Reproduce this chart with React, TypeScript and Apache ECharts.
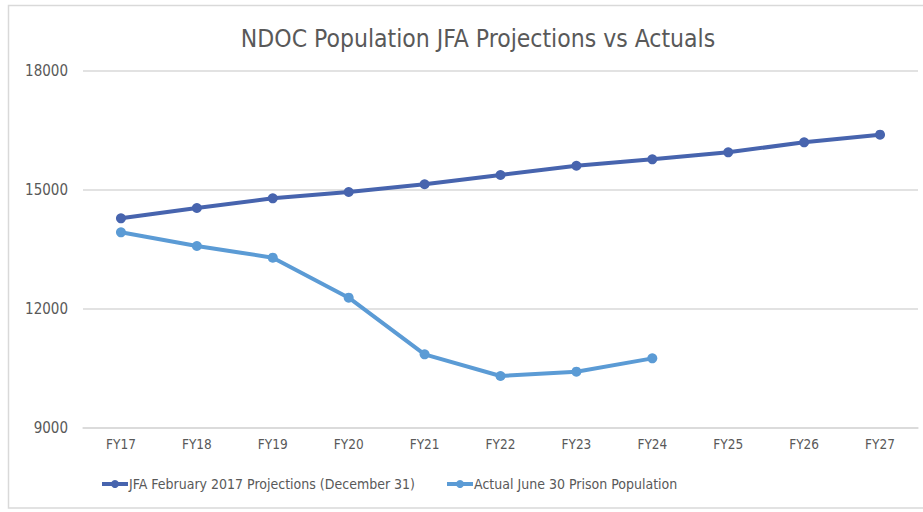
import React, { useEffect, useRef } from "react";
import * as echarts from "echarts";

const categories = ["FY17", "FY18", "FY19", "FY20", "FY21", "FY22", "FY23", "FY24", "FY25", "FY26", "FY27"];
const projections = [14286, 14546, 14790, 14950, 15144, 15378, 15612, 15774, 15950, 16202, 16395];
const actuals = [13933, 13588, 13294, 12286, 10857, 10311, 10420, 10756];
const yTicks = [9000, 12000, 15000, 18000];
const seriesNames = ["JFA February 2017 Projections (December 31)", "Actual June 30 Prison Population"];

const FONT = "'DejaVu Sans Condensed', 'DejaVu Sans', sans-serif";

export default function App() {
  const ref = useRef<HTMLDivElement>(null);
  useEffect(() => {
    if (!ref.current) return;
    const chart = echarts.init(ref.current, undefined, { renderer: "svg" });
    chart.setOption({
      animation: false,
      backgroundColor: "#ffffff",
      title: {
        text: "NDOC Population JFA Projections vs Actuals",
        left: 473,
        textAlign: "center",
        top: 21,
        textStyle: { fontFamily: FONT, fontSize: 24.5, fontWeight: "normal", color: "#595959" },
      },
      graphic: [
        {
          type: "rect",
          shape: { x: 8.5, y: 5.5, width: 930, height: 502.5 },
          style: { fill: "none", stroke: "#d9d9d9", lineWidth: 1.5 },
          silent: true,
        },
      ],
      legend: {
        bottom: 16,
        left: 95,
        itemGap: 30,
        itemWidth: 26,
        itemHeight: 10,
        lineStyle: { width: 4 },
        textStyle: { fontFamily: FONT, fontSize: 14, color: "#595959", padding: [0, 0, 0, -4] },
        data: seriesNames,
      },
      grid: { left: 83, right: 5, top: 71, bottom: 84, containLabel: false },
      xAxis: {
        type: "category",
        data: categories,
        boundaryGap: true,
        axisLine: { lineStyle: { color: "#d9d9d9", width: 1.5 } },
        axisTick: { show: false },
        axisLabel: { fontFamily: FONT, fontSize: 13.5, color: "#595959", margin: 9 },
      },
      yAxis: {
        type: "value",
        min: yTicks[0],
        max: yTicks[yTicks.length - 1],
        interval: 3000,
        axisLine: { show: false },
        axisTick: { show: false },
        splitLine: { lineStyle: { color: "#d9d9d9", width: 1.5 } },
        axisLabel: { fontFamily: FONT, fontSize: 15, color: "#595959", margin: 15, formatter: (v: number) => String(v) },
      },
      series: [
        {
          name: seriesNames[0],
          type: "line",
          data: projections,
          symbol: "circle",
          symbolSize: 10,
          lineStyle: { width: 4, color: "#4764ae" },
          itemStyle: { color: "#4764ae" },
        },
        {
          name: seriesNames[1],
          type: "line",
          data: actuals,
          symbol: "circle",
          symbolSize: 10,
          lineStyle: { width: 4, color: "#5b9bd5" },
          itemStyle: { color: "#5b9bd5" },
        },
      ],
    });
    return () => chart.dispose();
  }, []);
  return <div ref={ref} style={{ position: "absolute", left: 0, top: 0, width: 923, height: 512 }} />;
}
